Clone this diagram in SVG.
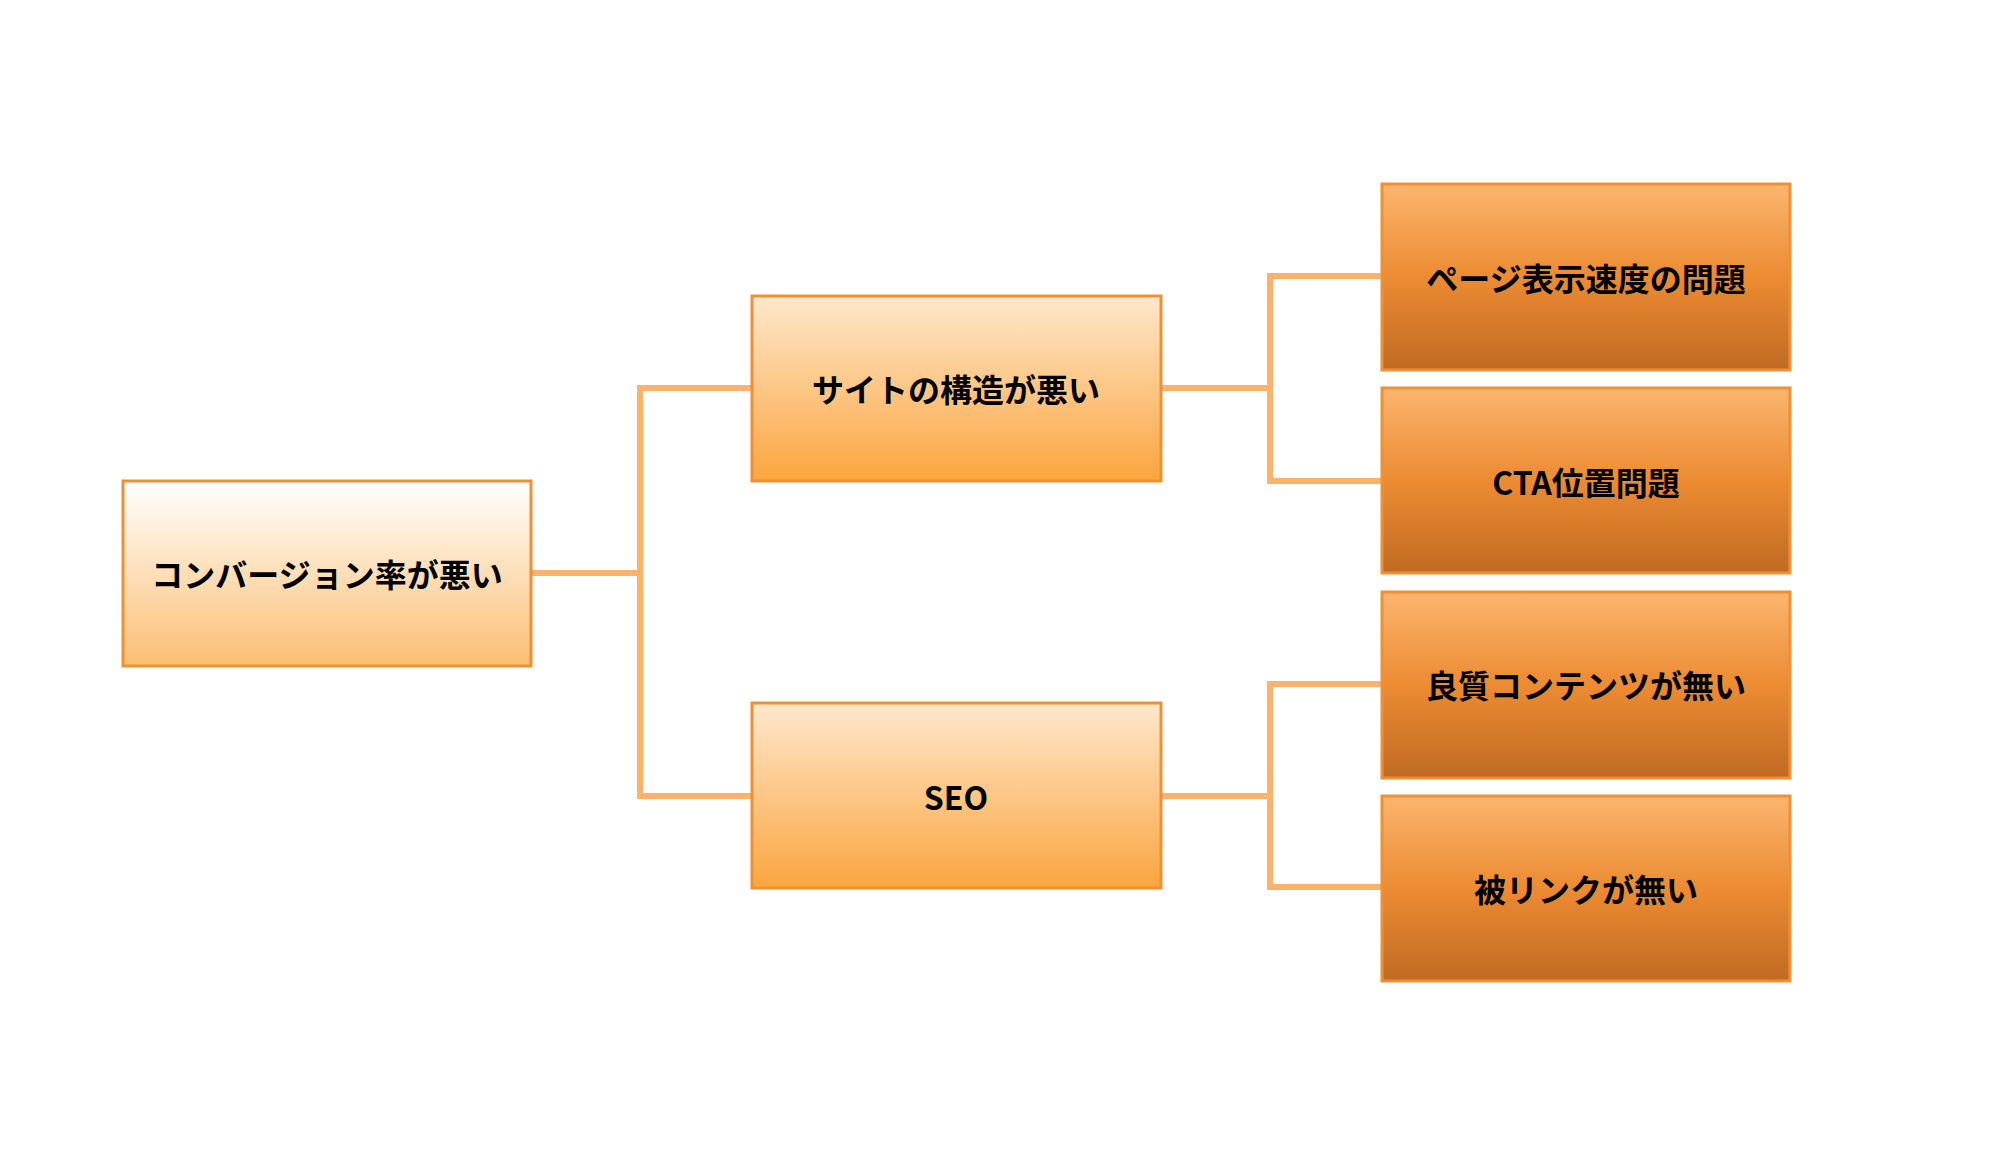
<svg xmlns="http://www.w3.org/2000/svg" width="2016" height="1166" viewBox="0 0 2016 1166">
<defs>
<linearGradient id="g1" x1="0" y1="0" x2="0" y2="1"><stop offset="0" stop-color="#FFFFFF"/><stop offset="1" stop-color="#FBBE72"/></linearGradient>
<linearGradient id="g2" x1="0" y1="0" x2="0" y2="1"><stop offset="0" stop-color="#FEE8CC"/><stop offset="1" stop-color="#FBA53E"/></linearGradient>
<linearGradient id="g3" x1="0" y1="0" x2="0" y2="1"><stop offset="0" stop-color="#FBB56E"/><stop offset="0.5" stop-color="#EC8B32"/><stop offset="1" stop-color="#C06A22"/></linearGradient>
</defs>
<style>
.b{stroke:#EE9035;stroke-width:3}
.t{font-family:"Noto Sans CJK JP","Noto Sans",sans-serif;font-weight:bold;font-size:32px;fill:#000;text-anchor:middle;dominant-baseline:central}
.c{fill:none;stroke:#FBB26A;stroke-width:6}
</style>
<rect width="2016" height="1166" fill="#fff"/>
<g id="connectors">
<polyline class="c" points="531,573 640,573"/>
<polyline class="c" points="752,388 640,388 640,796 752,796"/>
<polyline class="c" points="1161,388 1270,388"/>
<polyline class="c" points="1382,276 1270,276 1270,481 1382,481"/>
<polyline class="c" points="1161,796 1270,796"/>
<polyline class="c" points="1382,684 1270,684 1270,887 1382,887"/>
</g>
<g id="root"><rect class="b" x="123" y="481" width="408" height="185" fill="url(#g1)"/><text class="t" x="327" y="573">コンバージョン率が悪い</text></g>
<g id="site"><rect class="b" x="752" y="296" width="409" height="185" fill="url(#g2)"/><text class="t" x="956" y="388">サイトの構造が悪い</text></g>
<g id="seo"><rect class="b" x="752" y="703" width="409" height="185" fill="url(#g2)"/><text class="t" x="956" y="796">SEO</text></g>
<g id="speed"><rect class="b" x="1382" y="184" width="408" height="186" fill="url(#g3)"/><text class="t" x="1586" y="277">ページ表示速度の問題</text></g>
<g id="cta"><rect class="b" x="1382" y="388" width="408" height="185" fill="url(#g3)"/><text class="t" x="1586" y="481">CTA位置問題</text></g>
<g id="content"><rect class="b" x="1382" y="592" width="408" height="186" fill="url(#g3)"/><text class="t" x="1586" y="684">良質コンテンツが無い</text></g>
<g id="link"><rect class="b" x="1382" y="796" width="408" height="185" fill="url(#g3)"/><text class="t" x="1586" y="888">被リンクが無い</text></g>
</svg>
